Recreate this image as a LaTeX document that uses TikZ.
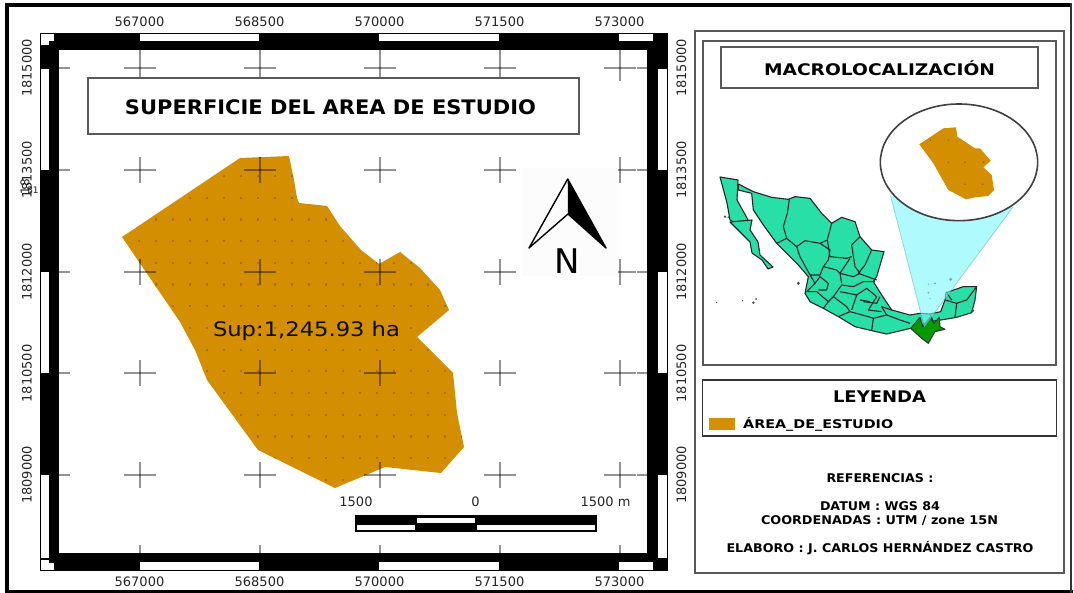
\documentclass[tikz,border=0pt]{standalone}
\usepackage{fontspec}
\usepackage{graphicx}
\setmainfont{DejaVu Sans}
\newcommand\fs[1]{\fontsize{#1}{#1}\selectfont}
\newcommand\fitw[2]{\resizebox{#1pt}{\height}{#2}}
\tikzset{
  gridline/.style={draw=black,draw opacity=.42,line width=2pt},
  panelbox/.style={draw=#1,line width=1.4pt,fill=white},
  ticktext/.style={inner sep=0pt,text=black!85,font=\fs{13}},
  bold/.style={inner sep=0pt,text=black,font=\bfseries},
  stateline/.style={draw=black!85,line width=1.1pt,line join=round},
  landfill/.style={fill=mapgreen,draw=black!85,line width=1.1pt,line join=round},
}
\definecolor{orangearea}{HTML}{D38F00}
\definecolor{mapgreen}{HTML}{29DFA8}
\definecolor{chiapas}{HTML}{019A01}
\definecolor{conefill}{rgb}{.483,.973,.987}
\begin{document}
\begin{tikzpicture}[x=1pt,y=-1pt]
\useasboundingbox (0,0) rectangle (1074,593);
\fill[white] (0,0) rectangle (1074,593);
% outer page border
\fill[black] (5,3) rectangle (9,593);
\fill[black] (5,3) rectangle (1072,7);
\fill[black] (5,590) rectangle (1073,593);
\fill[black!80] (1069.5,3) rectangle (1072,593);
% map frame
\fill[black] (40,33) rectangle (668,571);
\fill[white] (59,50) rectangle (647,553);
% frame white segments
\foreach \a/\b in {140/259,379/499,619/653}{
  \fill[white] (\a,34.2) rectangle (\b,41);
  \fill[white] (\a,562) rectangle (\b,570);
}
\foreach \a/\b in {69/170,272/373,475/558}{
  \fill[white] (41,\a) rectangle (49,\b);
  \fill[white] (658,\a) rectangle (667,\b);
}
\fill[white] (41,34) rectangle (54,41);
\fill[white] (41,41) rectangle (49,45);
\fill[white] (41,559.5) rectangle (49,563);
\fill[white] (41,563) rectangle (54,570);
% study area
\begin{scope}
\clip (122,237) -- (240,158) -- (289,156) -- (294,180) -- (297,198) -- (299,203) -- (327,206) -- (340,226) -- (361,250) -- (379,264) -- (400,252) -- (420,268) -- (440,290) -- (449,310) -- (417,337) -- (453,373) -- (457,413) -- (464,447) -- (441,473) -- (385,467) -- (335,488) -- (258,450) -- (207,380) -- (195,350) -- (180,322) -- cycle;
\fill[orangearea] (100,140) rectangle (480,500);
\foreach \r in {0,...,14}{
  \foreach \c in {0,...,20}{
    \fill[black,opacity=.2] ({122+17*\c-1},{176+21.7*\r-1}) rectangle ++(2.2,2.2);
  }
}
\end{scope}
% grid crosses
\foreach \cx in {139.5,259.5,379.5,499.5,619.5}{
  \foreach \cy in {68,170,272,373.5,475}{
    \draw[gridline] (\cx-16,\cy) -- (\cx+16,\cy);
    \draw[gridline] (\cx,\cy-13) -- (\cx,\cy+13);
  }
  \draw[gridline] (\cx,50) -- (\cx,55);
  \draw[gridline] (\cx,545) -- (\cx,553);
}
\foreach \cy in {68,170,272,373.5,475}{
  \draw[gridline] (59,\cy) -- (70,\cy);
  \draw[gridline] (637,\cy) -- (647,\cy);
}
% north arrow
\fill[white!99!black] (522,168) rectangle (618,276);
\coordinate (napex) at (567.7,179);
\coordinate (nleft) at (529,248);
\coordinate (ncenter) at (568,214);
\coordinate (nright) at (606,248);
\fill[black] (napex) -- (ncenter) -- (nright) -- cycle;
\draw[black,line width=1.4pt,line join=round] (napex) -- (nleft) -- (ncenter) -- (nright) -- cycle;
\node[inner sep=0pt,font=\fs{34}] (northlabel) at (567.5,261) {N};
% title
\node[panelbox=black!65,minimum width=491pt,minimum height=56pt,inner sep=0pt] (maintitlebox) at (333.5,106) {};
\node[bold] (maintitle) at (330.5,107) {\fs{20}\fitw{411}{SUPERFICIE DEL AREA DE ESTUDIO}};
\node[inner sep=0pt,text=black!95] (suplabel) at (306.5,331) {\fs{20}\fitw{187}{Sup:1,245.93 ha}};
% tick labels
\foreach \lx/\txt in {139.5/567000,259.5/568500,379.5/570000,499.5/571500,619.5/573000}{
  \node[ticktext] (top\txt) at (\lx,22) {\txt};
  \node[ticktext] (bot\txt) at (\lx,582) {\txt};
}
\foreach \ly/\txt in {68/1815000,170/1813500,272/1812000,373.5/1810500,475/1809000}{
  \node[ticktext,rotate=90] (left\txt) at (27,\ly) {\txt};
  \node[ticktext,rotate=90] (right\txt) at (681.5,\ly) {\txt};
}
\node[inner sep=0pt,rotate=90,font=\fs{12},text=black!85] (glitcha) at (25,187) {18};
\node[inner sep=0pt,font=\fs{9},text=black!85] (glitchb) at (33,190) {31};
% scale bar
\fill[black] (355,515) rectangle (597,532);
\fill[white] (417,517.5) rectangle (475,522.5);
\fill[white] (357,524.5) rectangle (414.5,530);
\fill[white] (477,524.5) rectangle (595,530);
\node[ticktext] (scaleleft) at (356,502) {1500};
\node[ticktext] (scalemid) at (475.5,502) {0};
\node[ticktext] (scaleright) at (605.5,502) {1500 m};
% right panel
\node[panelbox=black!65,minimum width=369pt,minimum height=542pt,inner sep=0pt] (rightpanel) at (879.5,302) {};
\node[panelbox=black!65,minimum width=353pt,minimum height=324pt,inner sep=0pt] (macrobox) at (879.5,203) {};
\node[panelbox=black!65,minimum width=317pt,minimum height=41pt,inner sep=0pt] (macrotitlebox) at (879.5,67.5) {};
\node[bold] (macrotitle) at (879.5,68) {\fs{16}\fitw{231}{MACROLOCALIZACIÓN}};
% Mexico
\begin{scope}[shift={(700,110)},x=.33333pt,y=-.33333pt]
% Baja
\filldraw[landfill] (60,201) -- (114,210) -- (111,270) -- (141,324) -- (146,334) -- (100,335) -- (90,330) -- (81,279) -- cycle;
\filldraw[landfill] (90,336) -- (156,330) -- (150,360) -- (174,396) -- (180,435) -- (219,471) -- (204,477) -- (186,450) -- (156,429) -- (150,396) -- (120,366) -- cycle;
% mainland
\filldraw[landfill] (115,222) -- (160,245) -- (215,262) -- (265,268) -- (285,260) -- (330,265) -- (365,310) -- (395,340) -- (425,322) -- (465,335) -- (480,380) -- (515,420) -- (552,425) -- (530,500) -- (520,515) -- (545,555) -- (575,600) -- (630,615) -- (660,610) -- (690,612) -- (722,605) -- (735,570) -- (738,548) -- (790,530) -- (830,530) -- (825,570) -- (815,608) -- (770,622) -- (735,628) -- (690,635) -- (632,655) -- (560,672) -- (515,662) -- (465,650) -- (415,620) -- (370,595) -- (330,575) -- (315,550) -- (325,500) -- (295,465) -- (230,400) -- (190,345) -- (160,300) -- (155,250) -- (115,240) -- cycle;
% state borders
\draw[stateline] (268,268) -- (262,310) -- (250,350) -- (260,385) -- (290,410);
\draw[stateline] (230,400) -- (260,385);
\draw[stateline] (395,340) -- (382,390) -- (360,400) -- (315,392) -- (290,410) -- (300,440) -- (330,495);
\draw[stateline] (360,400) -- (390,420) -- (385,450) -- (370,470) -- (360,495) -- (330,495);
\draw[stateline] (382,390) -- (390,440) -- (440,445) -- (455,440);
\draw[stateline] (480,380) -- (455,405) -- (465,470) -- (480,490);
\draw[stateline] (515,420) -- (495,465) -- (475,490) -- (530,510);
\draw[stateline] (450,445) -- (420,490) -- (460,500) -- (480,490);
\draw[stateline] (370,470) -- (410,480) -- (420,490) -- (425,520);
\draw[stateline] (330,495) -- (345,520) -- (320,545);
\draw[stateline] (345,520) -- (360,500) -- (385,520) -- (380,540) -- (355,540);
\draw[stateline] (320,545) -- (350,545) -- (385,575) -- (370,595);
\draw[stateline] (385,575) -- (400,560) -- (440,590) -- (450,605);
\draw[stateline] (415,620) -- (450,605) -- (505,620) -- (520,625) -- (515,662);
\draw[stateline] (520,625) -- (560,615) -- (600,630) -- (630,640);
\draw[stateline] (400,560) -- (425,525) -- (460,530) -- (490,515) -- (525,515);
\draw[stateline] (420,545) -- (470,555) -- (455,600);
\draw[stateline] (470,555) -- (500,535) -- (530,560) -- (505,600) -- (545,605);
\draw[stateline] (490,575) -- (530,580) -- (540,560);
\draw[stateline] (560,615) -- (545,590) -- (575,600);
\draw[stateline] (480,570) -- (510,575);
\draw[stateline] (735,570) -- (770,580) -- (800,570) -- (830,530);
\draw[stateline] (770,580) -- (765,622);
\draw[stateline] (740,548) -- (755,570);
\draw[stateline] (690,612) -- (700,635);
% islands
\foreach \ix/\iy/\ir in {75/320/4,85/322/3,295/520/5,50/578/2,160/578/4,168/567/3,128/572/2,752/508/5,818/602/5,705/520/3,685/548/3,685/522/2,690/566/2}{
  \fill[black!70] (\ix,\iy) circle[radius=\ir];
}
% Chiapas
\filldraw[fill=chiapas,draw=black!80,line width=1pt,line join=round] (632,655) -- (660,622) -- (668,650) -- (690,622) -- (702,640) -- (718,622) -- (720,650) -- (735,658) -- (705,665) -- (685,700) -- (665,685) -- cycle;
% cone
\coordinate (coneleft) at (572,258);
\coordinate (coneright) at (940,290);
\coordinate (coneapex) at (673,650);
\fill[conefill,opacity=.6] (coneleft) -- (coneapex) -- (coneright) -- cycle;
\draw[conefill!70!black,opacity=.5,line width=.8pt] (coneleft) -- (coneapex) -- (coneright);
% ellipse
\filldraw[fill=white,draw=black!75,line width=1.6pt] (777,157) ellipse[x radius=236,y radius=175];
% inset
\fill[orangearea,line join=round] (658,103) -- (730,55) -- (768,52) -- (772,80) -- (825,115) -- (840,115) -- (872,152) -- (850,172) -- (875,195) -- (882,240) -- (865,258) -- (825,262) -- (798,268) -- (745,240) -- (700,160) -- cycle;
\foreach \ix/\iy in {692/90,745/90,745/157,795/157,850/157,795/223,848/223}{
  \fill[black,opacity=.3] (\ix,\iy) circle[radius=2.6];
}
\end{scope}
% legend
\node[panelbox=black!80,minimum width=354pt,minimum height=56pt,inner sep=0pt] (legendbox) at (879.5,408) {};
\node[bold] (legendtitle) at (879.5,397) {\fs{16}\fitw{93}{LEYENDA}};
\node[inner sep=0pt,fill=orangearea,minimum width=26pt,minimum height=12pt] (swatch) at (722,424) {};
\node[bold,anchor=west] (legendtext) at (743,424) {\fs{12}\fitw{150}{ÁREA\_DE\_ESTUDIO}};
% references
\node[bold] (refs) at (880,478) {\fs{12}\fitw{107}{REFERENCIAS :}};
\node[bold] (datum) at (880,506) {\fs{12}\fitw{120}{DATUM : WGS 84}};
\node[bold] (coords) at (879.5,521) {\fs{12}\fitw{237}{COORDENADAS : UTM / zone 15N}};
\node[bold] (author) at (880,548) {\fs{12}\fitw{307}{ELABORO : J. CARLOS HERNÁNDEZ CASTRO}};
\end{tikzpicture}
\end{document}
